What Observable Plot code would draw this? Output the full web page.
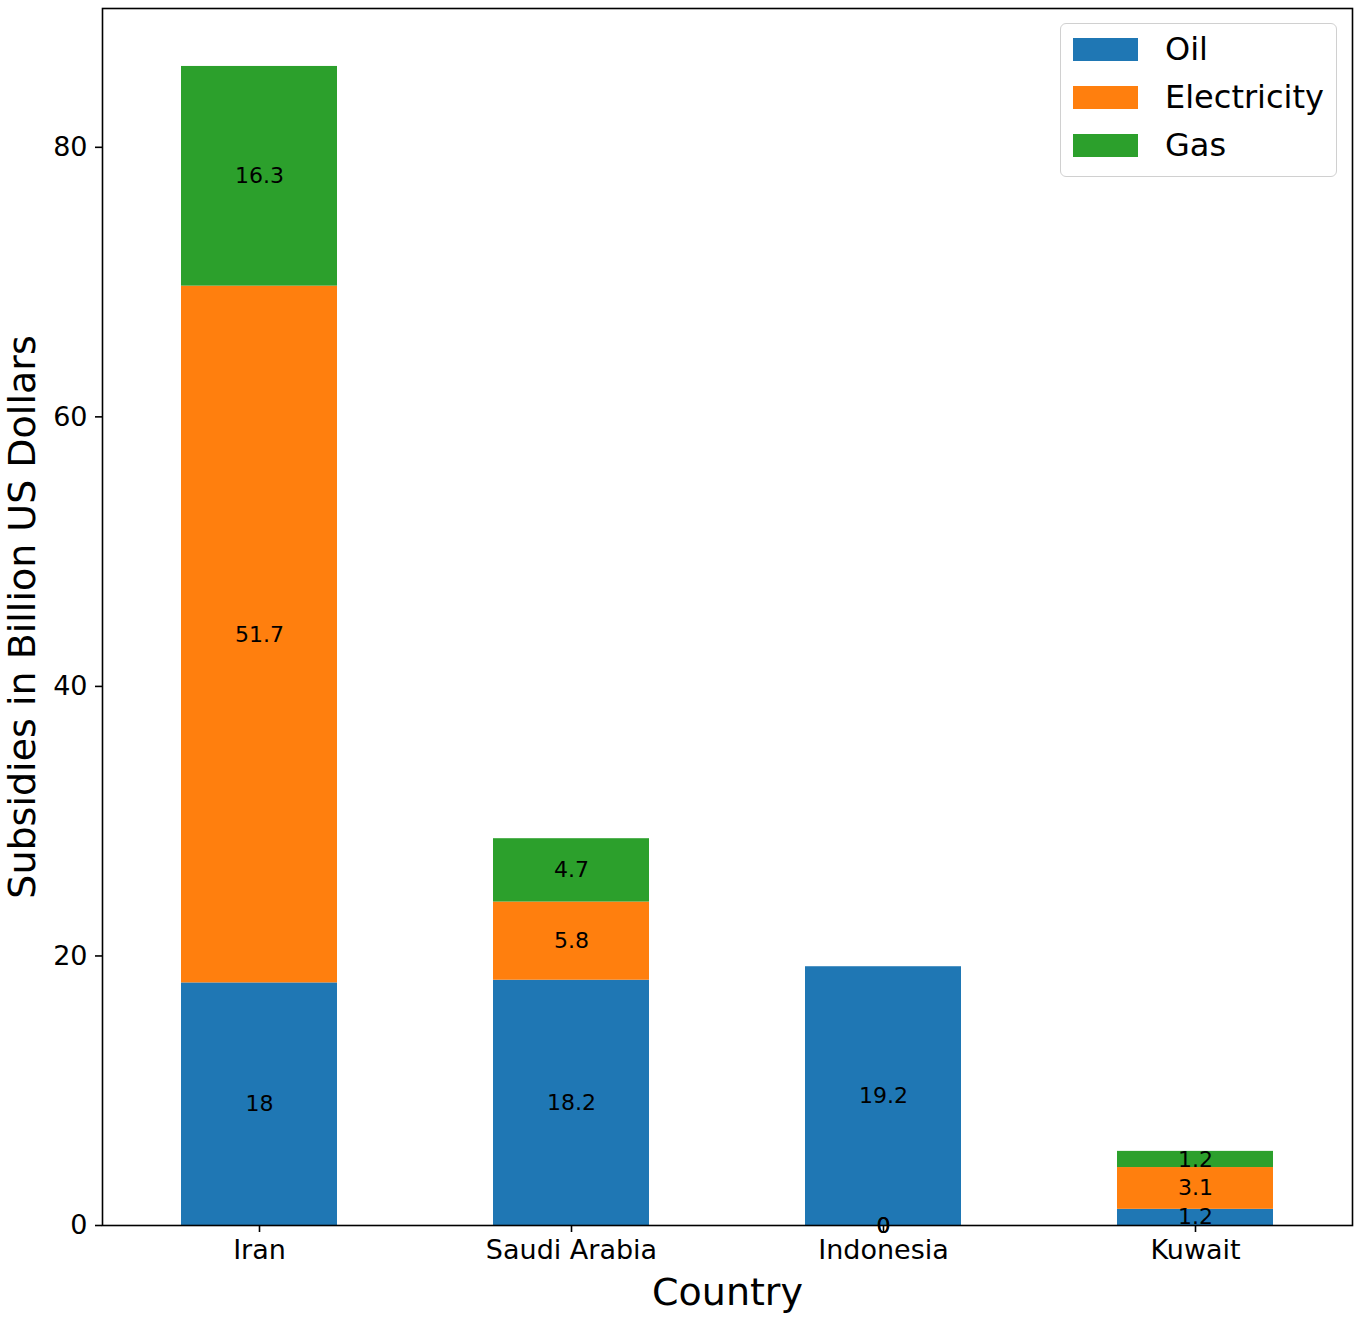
<!DOCTYPE html>
<html>
<head>
<meta charset="utf-8">
<script src="https://cdn.jsdelivr.net/npm/d3@7"></script>
<script src="https://cdn.jsdelivr.net/npm/@observablehq/plot@0.6"></script>
<style>
  body { margin: 0; background: #fff; font-family: "DejaVu Sans", sans-serif; }
  #wrap { position: relative; width: 1358px; height: 1319px; }
  #legend { position: absolute; left: 1060px; top: 23px; width: 277px; height: 154px;
    border: 1.5px solid #d0d0d0; border-radius: 6px; background: rgba(255,255,255,0.8); box-sizing: border-box; }
  .item { position: absolute; left: 12px; height: 23px; display: flex; align-items: center; }
  .sw { width: 65px; height: 23px; }
  .lab { position: absolute; left: 92px; font-size: 32px; line-height: 23px; white-space: nowrap; color: #000; }
</style>
</head>
<body>
<div id="wrap"><div id="legend"></div></div>
<script>
const countries = ["Iran", "Saudi Arabia", "Indonesia", "Kuwait"];
const oil = [18, 18.2, 19.2, 1.2];
const electricity = [51.7, 5.8, 0, 3.1];
const gas = [16.3, 4.7, 0, 1.2];
const seriesNames = ["Oil", "Electricity", "Gas"];
const seriesColors = ["#1f77b4", "#ff7f0e", "#2ca02c"];
const yTicks = [0, 20, 40, 60, 80];

const seriesValues = [oil, electricity, gas];
const rows = [];
countries.forEach((c, i) => {
  let base = 0;
  seriesNames.forEach((s, k) => {
    const v = seriesValues[k][i];
    rows.push({country: c, series: s, value: v, y1: base, y2: base + v,
      ymid: v === 0 ? 0 : base + v / 2});
    base += v;
  });
});

const font = "DejaVu Sans";
const chart = Plot.plot({
  width: 1358,
  height: 1319,
  marginLeft: 102,
  marginRight: 6,
  marginTop: 8,
  marginBottom: 94,
  style: {fontFamily: font, background: "white", color: "black"},
  x: {domain: countries, paddingInner: 0.5, paddingOuter: 0.25, label: null},
  y: {domain: [0, 90.3], label: null},
  color: {domain: seriesNames, range: seriesColors},
  marks: [
    Plot.barY(rows, {x: "country", y1: "y1", y2: "y2", fill: "series"}),
    Plot.text(rows, {x: "country", y: "ymid", text: d => String(d.value), fontSize: 22, fill: "black"}),
    Plot.frame({stroke: "black", strokeWidth: 1.6}),
    Plot.axisY({ticks: yTicks, tickSize: 7, tickPadding: 8, fontSize: 27, label: null, strokeWidth: 1.6}),
    Plot.axisX({tickSize: 7, tickPadding: 7, fontSize: 27, label: null, strokeWidth: 1.6}),
    Plot.text(["Subsidies in Billion US Dollars"], {frameAnchor: "left", dx: -80, rotate: -90, fontSize: 38, textAnchor: "middle", lineAnchor: "middle", fill: "black"}),
    Plot.text(["Country"], {frameAnchor: "bottom", dy: 67, fontSize: 38, textAnchor: "middle", lineAnchor: "middle", fill: "black"})
  ]
});
document.getElementById("wrap").prepend(chart);

const legend = document.getElementById("legend");
seriesNames.forEach((s, k) => {
  const item = document.createElement("div");
  item.className = "item";
  item.style.top = (14 + k * 48) + "px";
  item.innerHTML = `<div class="sw" style="background:${seriesColors[k]}"></div><div class="lab">${s}</div>`;
  legend.appendChild(item);
});
</script>
</body>
</html>
